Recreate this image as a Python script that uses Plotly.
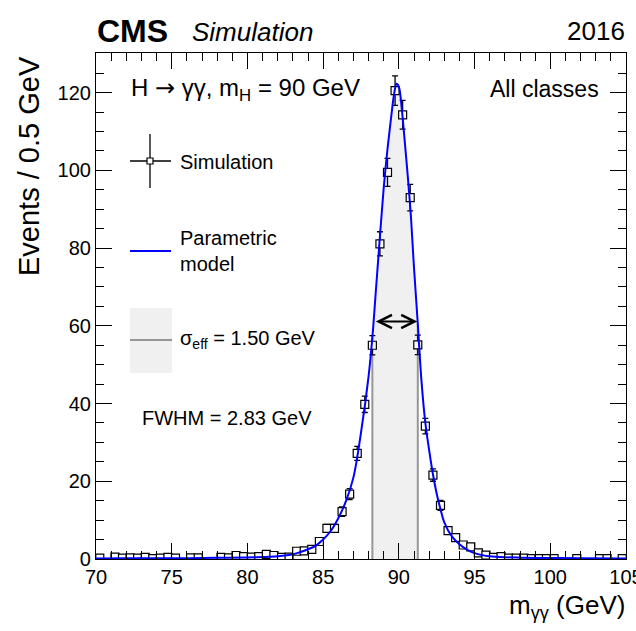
import numpy as np
import plotly.graph_objects as go

# ---------------- data ----------------
sim_x = [70.25, 71.25, 71.75, 72.25, 72.75, 73.25, 73.75, 74.25, 74.75, 75.25,
         76.25, 76.75, 78.25, 78.75, 79.25, 79.75, 80.25, 80.75, 81.25, 81.75,
         82.25, 82.75, 83.25, 83.75, 84.25, 84.75, 85.25, 85.75, 86.25, 86.75,
         87.25, 87.75, 88.25, 88.75, 89.25, 89.75, 90.25, 90.75, 91.25, 91.75,
         92.25, 92.75, 93.25, 93.75, 94.25, 94.75, 95.25, 95.75, 96.25, 96.75,
         97.25, 97.75, 98.25, 98.75, 99.25, 99.75, 100.25, 101.75, 103.25, 103.75,
         104.75]
sim_y = [0.2, 0.5, 0.2, 0.3, 0.2, 0.4, 0.1, 0.2, 0.4, 0.2,
         0.3, 0.3, 0.4, 0.3, 0.9, 0.6, 0.5, 0.6, 1.2, 0.9,
         0.4, 0.5, 2.0, 2.1, 2.5, 4.5, 7.9, 7.9, 12.2, 16.7,
         27.2, 39.8, 55.0, 81.1, 99.5, 120.5, 114.3, 93.0, 55.1, 34.2,
         21.6, 13.8, 7.3, 5.5, 3.6, 3.1, 1.6, 1.0, 0.4, 0.6,
         0.2, 0.2, 0.2, 0.1, 0.1, 0.1, 0.1, 0.1, 0.1, 0.1,
         0.1]
sim_err = [0.2, 0.3, 0.2, 0.2, 0.2, 0.25, 0.1, 0.2, 0.25, 0.2,
           0.2, 0.2, 0.25, 0.2, 0.35, 0.3, 0.3, 0.3, 0.4, 0.35,
           0.25, 0.3, 0.5, 0.5, 0.55, 0.75, 1.0, 1.0, 1.2, 1.4,
           1.8, 2.1, 2.5, 3.1, 3.6, 3.8, 3.7, 3.4, 2.5, 2.0,
           1.6, 1.3, 0.9, 0.8, 0.65, 0.6, 0.45, 0.35, 0.25, 0.3,
           0.2, 0.2, 0.2, 0.1, 0.1, 0.1, 0.1, 0.1, 0.1, 0.1,
           0.1]

model_x = [70, 72, 74, 76, 78, 80, 81, 82, 83, 83.5, 84, 84.5, 85, 85.5, 86,
           86.5, 87, 87.5, 88, 88.25, 88.5, 88.75, 89, 89.25, 89.5, 89.7, 89.85,
           90, 90.2, 90.4, 90.6, 90.8, 91, 91.25, 91.5, 91.75, 92, 92.25, 92.5,
           92.75, 93, 93.5, 94, 94.5, 95, 95.5, 96, 97, 98, 100, 102, 105]
model_y = [0.15, 0.18, 0.2, 0.22, 0.3, 0.4, 0.5, 0.7, 1.2, 1.8, 2.5, 3.4, 5.0, 7.2, 10.5,
           14.8, 21.0, 32.5, 47.0, 57.0, 70.0, 83.0, 95.5, 105.5, 114.0, 120.0, 122.3,
           121.5, 115.5, 107.0, 98.0, 88.0, 75.0, 60.5, 45.5, 35.0, 28.0, 21.8, 16.8,
           12.8, 9.4, 5.8, 3.8, 2.4, 1.5, 1.0, 0.7, 0.45, 0.35, 0.25, 0.2, 0.15]

sigma_eff_lo, sigma_eff_hi = 88.25, 91.25
fwhm_lo, fwhm_hi, half_max = 88.38, 91.22, 61.1

x_range = [70, 105]
y_range = [0, 130.2]

FONT = "Liberation Sans, Arial, Helvetica, sans-serif"
BLUE = "rgb(0,0,255)"
BAND = "rgb(240,240,240)"
GREY = "rgb(150,150,150)"

fig = go.Figure()

# sigma_eff band under the model
mx = np.array(model_x, dtype=float)
my = np.array(model_y, dtype=float)
sel = (mx >= sigma_eff_lo) & (mx <= sigma_eff_hi)
fig.add_trace(go.Scatter(x=mx[sel], y=my[sel], mode="lines", line=dict(width=0, shape="spline"),
                         fill="tozeroy", fillcolor=BAND, hoverinfo="skip", showlegend=False))
for xb in (sigma_eff_lo, sigma_eff_hi):
    fig.add_trace(go.Scatter(x=[xb, xb], y=[0, float(np.interp(xb, mx, my))], mode="lines",
                             line=dict(color=GREY, width=2), showlegend=False, hoverinfo="skip"))

# simulation points
fig.add_trace(go.Scatter(x=sim_x, y=sim_y, mode="markers",
                         marker=dict(symbol="square", size=8, color="white",
                                     line=dict(color="black", width=1.2)),
                         error_y=dict(type="data", array=sim_err, visible=True,
                                      color="black", thickness=1.3, width=3),
                         showlegend=False))

# parametric model
fig.add_trace(go.Scatter(x=model_x, y=model_y, mode="lines",
                         line=dict(color=BLUE, width=2, shape="spline"), showlegend=False))

# FWHM arrow
fig.add_annotation(x=fwhm_hi, y=half_max, ax=fwhm_lo, ay=half_max, xref="x", yref="y",
                   axref="x", ayref="y", text="", showarrow=True, arrowside="end+start",
                   arrowhead=5, arrowsize=1.3, arrowwidth=2, arrowcolor="black")

W, H = 636, 631
L, R, T, B = 96, 10, 53, 72
pw, ph = W - L - R, H - T - B

def px(x):
    return (x - L) / pw

def py(y):
    return (H - B - y) / ph

shapes = []
# legend: simulation symbol
shapes.append(dict(type="line", xref="paper", yref="paper", x0=px(150), x1=px(150), y0=py(134), y1=py(188),
                   line=dict(color="black", width=1.3)))
shapes.append(dict(type="line", xref="paper", yref="paper", x0=px(130), x1=px(171), y0=py(161), y1=py(161),
                   line=dict(color="black", width=1.3)))
shapes.append(dict(type="rect", xref="paper", yref="paper", x0=px(147), x1=px(153), y0=py(158), y1=py(164),
                   line=dict(color="black", width=1.2), fillcolor="white"))
# legend: model line
shapes.append(dict(type="line", xref="paper", yref="paper", x0=px(130), x1=px(171), y0=py(251), y1=py(251),
                   line=dict(color=BLUE, width=2)))
# legend: sigma_eff box
shapes.append(dict(type="rect", xref="paper", yref="paper", x0=px(130), x1=px(172), y0=py(308), y1=py(373),
                   line=dict(width=0), fillcolor=BAND))
shapes.append(dict(type="line", xref="paper", yref="paper", x0=px(130), x1=px(172), y0=py(340), y1=py(340),
                   line=dict(color=GREY, width=2)))
fig.update_layout(shapes=shapes)

def ann(text, x, y, size, xanchor="left", yanchor="middle", **kw):
    fig.add_annotation(text=text, x=px(x), y=py(y), xref="paper", yref="paper", showarrow=False,
                       xanchor=xanchor, yanchor=yanchor, font=dict(family=FONT, size=size, color="black"),
                       **kw)

ann("Simulation", 178, 162, 20)
ann("Parametric<br>model", 178, 251, 20, align="left")
ann("σ<sub>eff</sub> = 1.50 GeV", 178, 339, 20)
ann("FWHM = 2.83 GeV", 140, 418, 20)
ann("H <span style=\"font-family:DejaVu Sans\">→</span> γγ, m<sub>H</sub> = 90 GeV", 129, 89, 24)
ann("All classes", 601, 89, 23, xanchor="right")
ann("<b>CMS</b>", 95, 31, 32)
ann("<i>Simulation</i>", 190, 32, 26)
ann("2016", 627, 31, 26, xanchor="right")
ann("m<sub>γγ</sub> (GeV)", 627, 606, 26, xanchor="right")
fig.add_annotation(text="Events / 0.5 GeV", x=px(29), y=py(54), xref="paper", yref="paper",
                   showarrow=False, textangle=-90, xanchor="center", yanchor="top",
                   font=dict(family=FONT, size=29, color="black"))

axis_common = dict(showline=True, linecolor="black", linewidth=1.2, mirror="allticks",
                   ticks="inside", ticklen=16, tickwidth=1.2, tickcolor="black",
                   showgrid=False, zeroline=False, ticklabeloverflow="allow", automargin=False,
                   tickfont=dict(family=FONT, size=20, color="black"))
fig.update_xaxes(range=x_range, tick0=70, dtick=5,
                 minor=dict(ticks="inside", ticklen=8, dtick=1, tickcolor="black", tickwidth=1.2, showgrid=False),
                 **axis_common)
fig.update_yaxes(range=y_range, tick0=0, dtick=20,
                 minor=dict(ticks="inside", ticklen=8, dtick=5, tickcolor="black", tickwidth=1.2, showgrid=False),
                 **axis_common)

fig.update_layout(width=W, height=H, margin=dict(l=L, r=R, t=T, b=B),
                  paper_bgcolor="white", plot_bgcolor="white", showlegend=False)

fig.write_html("out.html")
